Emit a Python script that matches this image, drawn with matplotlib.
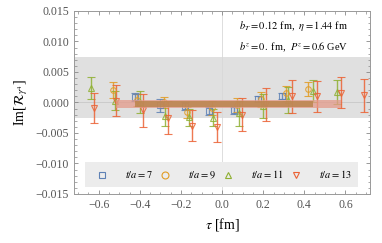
import matplotlib.pyplot as plt
import numpy as np
import matplotlib.ticker as ticker

plt.rcParams['font.family'] = ['Liberation Serif', 'DejaVu Serif']
plt.rcParams['mathtext.fontset'] = 'stix'

# t/a = 7
tau7 = [-0.424, -0.30, -0.183, -0.063, 0.059, 0.176, 0.293]
y7 = [0.0009, -0.0005, -0.0006, -0.0014, -0.0013, 0.0005, 0.0010]
e7 = [0.0007, 0.0010, 0.0007, 0.0006, 0.0006, 0.0005, 0.0005]

# t/a = 9
tau9 = [-0.53, -0.413, -0.285, -0.17, -0.05, 0.07, 0.19, 0.31, 0.42]
y9 = [0.0021, 0.0004, 0.0000, -0.0016, -0.0009, -0.0004, 0.0005, 0.0015, 0.0022]
e9 = [0.0013, 0.0010, 0.0009, 0.0009, 0.0011, 0.0012, 0.0012, 0.0012, 0.0012]

# t/a = 11
tau11 = [-0.638, -0.52, -0.40, -0.278, -0.16, -0.045, 0.08, 0.20, 0.32, 0.44, 0.56]
y11 = [0.0024, 0.0003, 0.0000, -0.0022, -0.0024, -0.0025, -0.0018, -0.0006, 0.0004, 0.0018, 0.0017]
e11 = [0.0018, 0.0015, 0.0018, 0.0016, 0.0014, 0.0014, 0.0020, 0.0020, 0.0021, 0.0018, 0.0019]

# t/a = 13
tau13 = [-0.624, -0.515, -0.385, -0.265, -0.145, -0.027, 0.095, 0.215, 0.34, 0.46, 0.577, 0.69]
y13 = [-0.0009, 0.0003, -0.0013, -0.0025, -0.0038, -0.0040, -0.0020, -0.0003, 0.0010, 0.0010, 0.0016, 0.0012]
e13 = [0.0025, 0.0026, 0.0027, 0.0027, 0.0025, 0.0025, 0.0027, 0.0027, 0.0027, 0.0025, 0.0025, 0.0027]

# fit bands
band_gray = (-0.0025, 0.0074)
fit_red = (-0.515, 0.577, -0.0002, 0.00065)
fit_brown = (-0.425, 0.44, -0.00025, 0.00055)

colors = ['#5e81b5', '#e19c24', '#8fb032', '#eb6235']
markers = ['s', 'o', '^', 'v']
labels = ['$t/a = 7$', '$t/a = 9$', '$t/a = 11$', '$t/a = 13$']

fig = plt.figure(figsize=(3.82, 2.43), dpi=100)
ax = fig.add_axes([0.194, 0.202, 0.775, 0.753])

ax.axhspan(band_gray[0], band_gray[1], color='#e0e0e0', zorder=0, lw=0)
ax.axhline(0, color='#c8c8c8', lw=0.6, zorder=0.5)
ax.axvline(0, color='#d8d8d8', lw=0.6, zorder=0.5)

series = [(tau7, y7, e7), (tau9, y9, e9), (tau11, y11, e11), (tau13, y13, e13)]
for (t, y, e), c, m, lab in zip(series, colors, markers, labels):
    ax.errorbar(t, y, yerr=e, fmt=m, color=c, mfc='none', mec=c, ms=4, mew=0.8,
                elinewidth=1.0, capsize=3, capthick=1.0, alpha=0.85, zorder=2)
    ax.plot([], [], m, color=c, mfc='none', ms=5, mew=0.8, label=lab)

ax.fill_between([fit_red[0], fit_red[1]], fit_red[2] - fit_red[3], fit_red[2] + fit_red[3],
                color='#e49a8a', alpha=0.75, lw=0, zorder=3)
ax.fill_between([fit_brown[0], fit_brown[1]], fit_brown[2] - fit_brown[3], fit_brown[2] + fit_brown[3],
                color='#bb854e', alpha=0.85, lw=0, zorder=3.1)

ax.set_xlim(-0.72, 0.72)
ax.set_ylim(-0.015, 0.015)
ax.xaxis.set_major_locator(ticker.MultipleLocator(0.2))
ax.xaxis.set_minor_locator(ticker.MultipleLocator(0.05))
ax.yaxis.set_major_locator(ticker.MultipleLocator(0.005))
ax.yaxis.set_minor_locator(ticker.MultipleLocator(0.001))
ax.xaxis.set_major_formatter(ticker.FuncFormatter(lambda v, p: ('%.1f' % v).replace('-', '\u2212')))
ax.yaxis.set_major_formatter(ticker.FuncFormatter(lambda v, p: ('%.3f' % v).replace('-', '\u2212')))
ax.tick_params(which='both', direction='in', top=True, right=True, colors='#888888',
               labelcolor='#555555', labelsize=8.5)
ax.tick_params(which='major', length=3, width=0.6)
ax.tick_params(which='minor', length=1.8, width=0.5)
for s in ax.spines.values():
    s.set_color('#999999')
    s.set_linewidth(0.7)

ax.set_xlabel(r'$\tau$ [fm]', fontsize=10)
ax.set_ylabel(r'Im[$\mathcal{R}_{\gamma^4}$]', fontsize=10)

ax.text(0.74, 0.915, r'$b_T = 0.12$ fm,  $\eta = 1.44$ fm', transform=ax.transAxes,
        ha='center', va='center', fontsize=7.5)
ax.text(0.74, 0.80, r'$b^z = 0.$ fm,  $P^z = 0.6$ GeV', transform=ax.transAxes,
        ha='center', va='center', fontsize=7.5)

leg = ax.legend(loc='lower left', bbox_to_anchor=(0.037, 0.038, 0.922, 0.131), mode='expand',
                ncol=4, fontsize=7.5, frameon=True, facecolor='#ececec', edgecolor='none',
                framealpha=1, handletextpad=1.2, borderaxespad=0, borderpad=0.6)
leg.get_frame().set_boxstyle('square', pad=0)

fig.savefig('out.png', dpi=100)
